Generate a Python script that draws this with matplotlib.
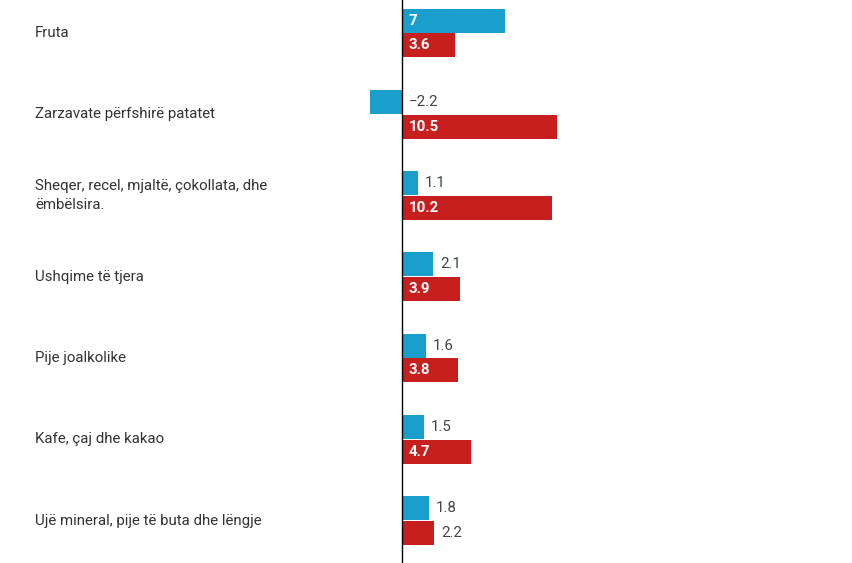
import numpy as np
import matplotlib.pyplot as plt

plt.rcParams['font.family'] = ['Roboto', 'DejaVu Sans']

categories = ['Fruta', 'Zarzavate përfshirë patatet',
              'Sheqer, recel, mjaltë, çokollata, dhe\nëmbëlsira.',
              'Ushqime të tjera', 'Pije joalkolike', 'Kafe, çaj dhe kakao',
              'Ujë mineral, pije të buta dhe lëngje']
blue_vals = [7, -2.2, 1.1, 2.1, 1.6, 1.5, 1.8]
red_vals = [3.6, 10.5, 10.2, 3.9, 3.8, 4.7, 2.2]

blue = '#1a9fcd'
red = '#c71e1e'

fig = plt.figure(figsize=(8.53, 5.63), dpi=100)
ax = fig.add_axes([340/853, 0, 1 - 340/853, 1])

y = np.arange(len(categories))
h = 0.295
off = 0.153
ax.barh(y - off, blue_vals, height=h, color=blue)
ax.barh(y + off, red_vals, height=h, color=red)

ax.set_xlim(-62/14.75, 451/14.75)
ax.set_ylim(530/81.25, -33/81.25)
ax.axvline(0, color='black', lw=1)
for s in ax.spines.values():
    s.set_visible(False)
ax.set_xticks([])
ax.set_yticks([])

px = 7/14.75  # gap between bar and its label

def label(v, yy):
    txt = f'{v:g}'.replace('-', '\u2212')
    if v >= 3:
        ax.text(px, yy, txt, color='white', fontweight='bold', fontsize=10.8,
                va='center', ha='left')
    else:
        ax.text(max(v, 0) + px, yy, txt, color='#444444', fontsize=10.8,
                va='center', ha='left')

for i in range(len(categories)):
    label(blue_vals[i], y[i] - off)
    label(red_vals[i], y[i] + off)

for i, c in enumerate(categories):
    fig.text(35/853, 1 - (33 + i*81.25)/563, c, fontsize=10.85, color='#333333',
             va='center', ha='left', linespacing=1.4)

fig.savefig('out.png', dpi=100)
